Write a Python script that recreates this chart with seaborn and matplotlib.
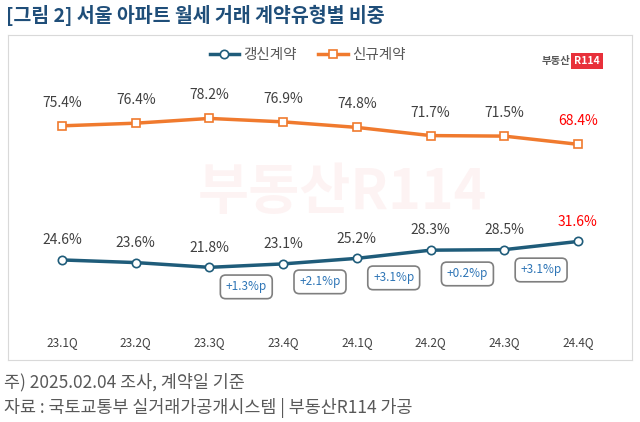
import matplotlib.pyplot as plt
import seaborn as sns
import pandas as pd

plt.rcParams['font.family'] = ['Noto Sans CJK KR', 'Noto Sans CJK JP', 'Noto Sans CJK SC', 'DejaVu Sans']

quarters = ['23.1Q', '23.2Q', '23.3Q', '23.4Q', '24.1Q', '24.2Q', '24.3Q', '24.4Q']
renew = [24.6, 23.6, 21.8, 23.1, 25.2, 28.3, 28.5, 31.6]
new = [75.4, 76.4, 78.2, 76.9, 74.8, 71.7, 71.5, 68.4]
diffs = ['+1.3%p', '+2.1%p', '+3.1%p', '+0.2%p', '+3.1%p']
diff_y = [14.4, 16.3, 17.8, 19.3, 20.8]

df = pd.DataFrame({'x': range(len(quarters)), 'renew': renew, 'new': new})

fig = plt.figure(figsize=(6.4, 4.22), dpi=100)
ax = fig.add_axes([8 / 640, 1 - 360 / 422, 624 / 640, 325 / 422])
ax.set_xlim(-0.733, 7.733)
ax.set_ylim(-13.3, 109.8)
for s in ax.spines.values():
    s.set_color('#d9d9d9')
ax.set_xticks([])
ax.set_yticks([])

blue = '#1f5c7a'
orange = '#f07a2e'
sns.lineplot(data=df, x='x', y='renew', ax=ax, color=blue, lw=2.5, marker='o',
             markersize=6, markerfacecolor='white', markeredgecolor=blue, markeredgewidth=1.2,
             label='갱신계약')
sns.lineplot(data=df, x='x', y='new', ax=ax, color=orange, lw=2.5, marker='s',
             markersize=6, markerfacecolor='white', markeredgecolor=orange, markeredgewidth=1.2,
             label='신규계약')
ax.set_xlabel('')
ax.set_ylabel('')
ax.legend(loc='upper center', bbox_to_anchor=(0.48, 1.0), ncol=2, frameon=False,
          fontsize=10.5, labelcolor='#595959', handlelength=2.0, handletextpad=0.3,
          columnspacing=1.5)

for i in range(len(quarters)):
    c = 'red' if i == len(quarters) - 1 else '#404040'
    ax.text(i, renew[i] + 7.5, f'{renew[i]}%', ha='center', va='center', fontsize=10, color=c)
    ax.text(i, new[i] + 8.7, f'{new[i]}%', ha='center', va='center', fontsize=10, color=c)
    ax.text(i, -6.5, quarters[i], ha='center', va='center', fontsize=8.5, color='#404040')

for k, (t, yv) in enumerate(zip(diffs, diff_y)):
    ax.text(k + 2.5, yv, t, ha='center', va='center', fontsize=8.5, color='#2e75b6',
            bbox=dict(boxstyle='round,pad=0.45', fc='white', ec='#7f7f7f', lw=1.2))

ax.text(3.8, 50, '부동산R114', ha='center', va='center', fontsize=40, color='#e84040',
        alpha=0.06, fontweight='bold', zorder=0)
ax.text(6.9, 100, '부동산', ha='right', va='center', fontsize=7.5, color='#595959', fontweight='bold')
ax.text(7.12, 100, 'R114', ha='center', va='center', fontsize=7.5, color='white', fontweight='bold',
        bbox=dict(boxstyle='square,pad=0.3', fc='#e8303a', ec='none'))

fig.text(6 / 640, 1 - 15 / 422, '[그림 2] 서울 아파트 월세 거래 계약유형별 비중', fontsize=14,
         fontweight='bold', color='#1f4e79', va='center')
fig.text(4 / 640, 1 - 382 / 422, '주) 2025.02.04 조사, 계약일 기준', fontsize=12.5, color='#595959', va='center')
fig.text(4 / 640, 1 - 408 / 422, '자료 : 국토교통부 실거래가공개시스템 | 부동산R114 가공', fontsize=12.5,
         color='#595959', va='center')

fig.savefig('out.png', dpi=100)
